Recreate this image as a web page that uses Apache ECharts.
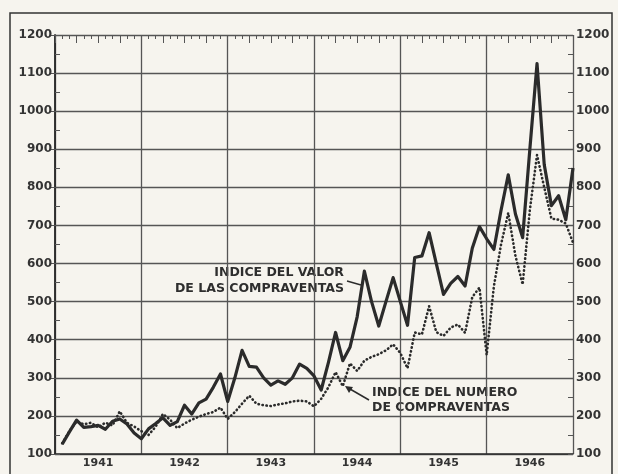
<!DOCTYPE html>
<html>
    <head>
        <meta charset="utf-8">
        <script src="https://cdn.jsdelivr.net/npm/echarts@6/dist/echarts.min.js"></script>
    </head>
    <body>
        <style>
            html, body, #main {
                width: 100%;
                height: 100%;
                margin: 0;
                background: #f6f4ee;
            }
        </style>
        <div id="main"></div>
        <script>
            // monthly index numbers, Jan 1941 .. Dec 1946 (month 1 = Jan 1941)
            var years = ['1941', '1942', '1943', '1944', '1945', '1946'];

            var valor = [
                126, 158, 189, 170, 172, 175, 165, 186, 192, 179, 155, 140,
                166, 180, 195, 175, 185, 228, 205, 234, 244, 275, 310, 238,
                300, 372, 330, 328, 300, 281, 292, 283, 300, 336, 325, 305,
                268, 340, 419, 345, 380, 460, 580, 500, 436, 500, 563, 500,
                438, 616, 620, 681, 600, 519, 548, 566, 541, 640, 697, 665,
                637, 740, 833, 730, 668, 900, 1125, 860, 752, 778, 715, 851
            ];

            var numero = [
                128, 160, 185, 178, 182, 170, 182, 175, 212, 182, 172, 160,
                150, 172, 205, 190, 168, 180, 190, 198, 205, 210, 222, 192,
                210, 232, 253, 232, 228, 226, 230, 233, 238, 240, 238, 225,
                245, 275, 315, 278, 338, 318, 345, 355, 362, 372, 388, 365,
                325, 419, 414, 488, 420, 410, 432, 440, 418, 512, 537, 360,
                540, 650, 733, 620, 545, 740, 885, 800, 718, 715, 705, 655
            ];

            var chart = echarts.init(document.getElementById('main'));

            function pairs(values) {
                return values.map(function (v, i) {
                    return [i + 1, v];
                });
            }

            var ink = '#2b2b2b';
            var gridInk = '#555';
            var font = 'DejaVu Sans';

            var yBase = {
                type: 'value',
                min: 100,
                max: 1200,
                interval: 100,
                axisLine: {show: true, lineStyle: {color: ink, width: 1.5}},
                axisTick: {show: true, length: 5, lineStyle: {color: gridInk}},
                axisLabel: {
                    margin: 3,
                    color: '#333',
                    fontFamily: font,
                    fontWeight: 'bold',
                    fontSize: 12,
                    formatter: function (v) {
                        return String(v);
                    }
                }
            };

            // hidden axes only carry the inward half-step ticks
            var yHalf = {
                type: 'value',
                min: 100,
                max: 1200,
                interval: 50,
                axisLine: {show: false},
                axisTick: {show: true, inside: true, length: 5, lineStyle: {color: gridInk}},
                axisLabel: {show: false},
                splitLine: {show: false}
            };

            chart.setOption({
                backgroundColor: '#f6f4ee',
                animation: false,
                grid: {
                    left: 55,
                    right: 45,
                    top: 35,
                    bottom: 20
                },
                xAxis: [
                    {
                        type: 'value',
                        min: 0,
                        max: 72,
                        interval: 12,
                        axisLine: {show: true, lineStyle: {color: ink, width: 1.5}},
                        axisTick: {show: false},
                        axisLabel: {show: false},
                        splitLine: {show: true, lineStyle: {color: gridInk, width: 1.3}}
                    },
                    {
                        type: 'value',
                        min: 0,
                        max: 72,
                        interval: 3,
                        axisLine: {show: false},
                        axisTick: {show: true, inside: true, length: 8, lineStyle: {color: gridInk}},
                        minorTick: {show: true, splitNumber: 3, length: 4, lineStyle: {color: gridInk}},
                        axisLabel: {show: false},
                        splitLine: {show: false}
                    },
                    {
                        type: 'category',
                        data: years,
                        position: 'bottom',
                        axisLine: {show: false},
                        axisTick: {show: false},
                        axisLabel: {
                            margin: 4,
                            color: '#333',
                            fontFamily: font,
                            fontWeight: 'bold',
                            fontSize: 11
                        }
                    }
                ],
                yAxis: [
                    Object.assign({}, yBase, {
                        position: 'left',
                        splitLine: {show: true, lineStyle: {color: gridInk, width: 1.3}}
                    }),
                    Object.assign({}, yBase, {
                        position: 'right',
                        splitLine: {show: false}
                    }),
                    Object.assign({}, yHalf, {position: 'left'}),
                    Object.assign({}, yHalf, {position: 'right'})
                ],
                graphic: [
                    {
                        type: 'rect',
                        shape: {x: 10, y: 13, width: 602, height: 480},
                        style: {fill: 'none', stroke: '#333', lineWidth: 1.5}
                    },
                    {
                        type: 'text',
                        style: {
                            x: 344, y: 273, text: 'INDICE DEL VALOR',
                            align: 'right', verticalAlign: 'middle',
                            font: 'bold 12.5px "DejaVu Sans"', fill: '#2e2e2e'
                        }
                    },
                    {
                        type: 'text',
                        style: {
                            x: 344, y: 289, text: 'DE LAS COMPRAVENTAS',
                            align: 'right', verticalAlign: 'middle',
                            font: 'bold 12.5px "DejaVu Sans"', fill: '#2e2e2e'
                        }
                    },
                    {
                        type: 'line',
                        shape: {x1: 347, y1: 281, x2: 361, y2: 285},
                        style: {stroke: ink, lineWidth: 1.5}
                    },
                    {
                        type: 'text',
                        style: {
                            x: 372, y: 393, text: 'INDICE DEL NUMERO',
                            align: 'left', verticalAlign: 'middle',
                            font: 'bold 12.5px "DejaVu Sans"', fill: '#2e2e2e'
                        }
                    },
                    {
                        type: 'text',
                        style: {
                            x: 372, y: 408, text: 'DE COMPRAVENTAS',
                            align: 'left', verticalAlign: 'middle',
                            font: 'bold 12.5px "DejaVu Sans"', fill: '#2e2e2e'
                        }
                    },
                    {
                        type: 'line',
                        shape: {x1: 369, y1: 400, x2: 350, y2: 389},
                        style: {stroke: ink, lineWidth: 1.5}
                    },
                    {
                        type: 'polygon',
                        shape: {points: [[345, 386], [353, 387], [349, 393]]},
                        style: {fill: ink}
                    }
                ],
                series: [
                    {
                        name: 'INDICE DEL VALOR DE LAS COMPRAVENTAS',
                        type: 'line',
                        xAxisIndex: 0,
                        yAxisIndex: 0,
                        symbol: 'none',
                        data: pairs(valor),
                        lineStyle: {color: ink, width: 3.2, join: 'round'},
                        z: 5
                    },
                    {
                        name: 'INDICE DEL NUMERO DE COMPRAVENTAS',
                        type: 'line',
                        xAxisIndex: 0,
                        yAxisIndex: 0,
                        symbol: 'none',
                        data: pairs(numero),
                        lineStyle: {
                            color: ink,
                            width: 2.6,
                            type: [0.4, 3.6],
                            cap: 'round',
                            join: 'round'
                        },
                        z: 4
                    }
                ]
            });
        </script>
    </body>
</html>
